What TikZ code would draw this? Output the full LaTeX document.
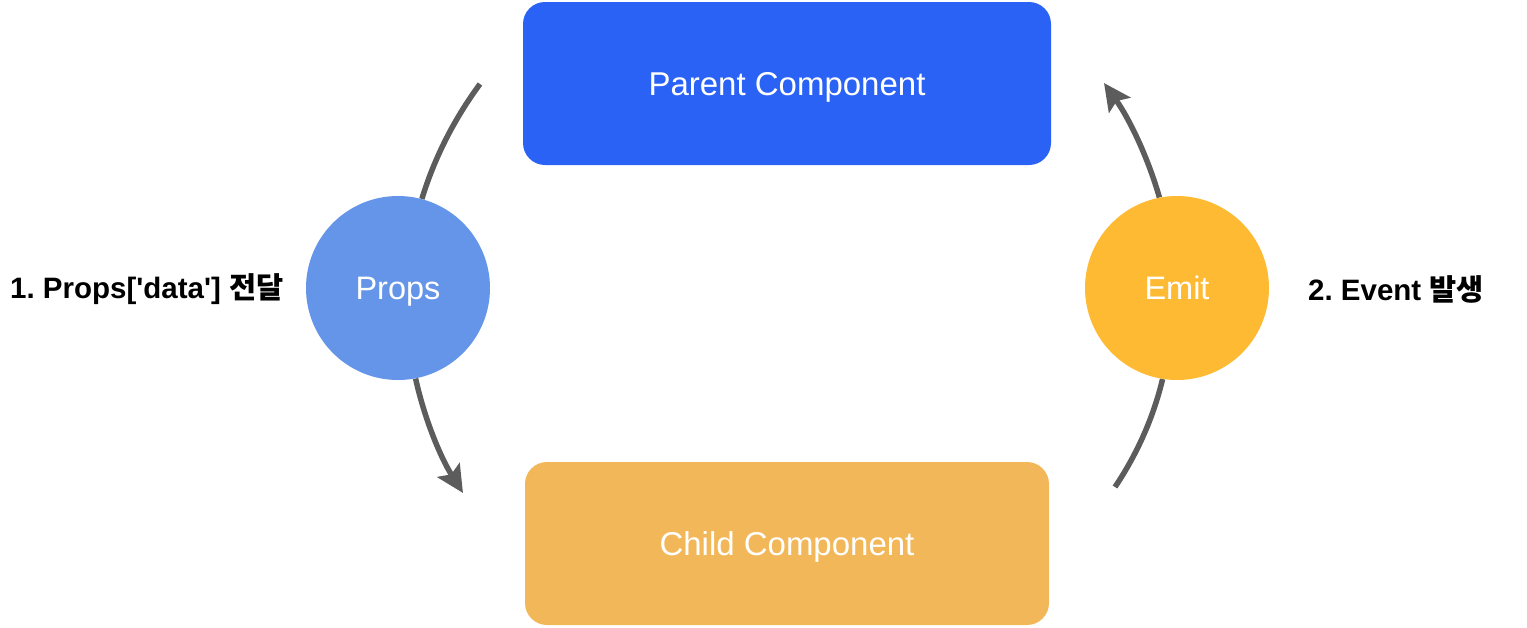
\documentclass[tikz,border=0pt]{standalone}
\usepackage{fontspec}
\setmainfont{Liberation Sans}
\newfontfamily\krfont{Noto Sans CJK KR Bold}
\usetikzlibrary{arrows.meta}
\pgfdeclarelayer{back}
\pgfsetlayers{back,main}
\definecolor{parentblue}{HTML}{2B62F6}
\definecolor{childorange}{HTML}{F2B758}
\definecolor{propsblue}{HTML}{6495E8}
\definecolor{emityellow}{HTML}{FFBA33}
\definecolor{linegray}{HTML}{5C5C5C}
\tikzset{
  compbox/.style={rectangle, rounded corners=22pt, minimum width=528pt, minimum height=163pt, inner sep=0pt, text=white, font=\fontsize{33}{40}\selectfont, text height=23.5pt, text depth=0pt},
  roundnode/.style={circle, minimum size=184pt, inner sep=0pt, text=white, font=\fontsize{32.5}{40}\selectfont, text height=23pt, text depth=0pt},
  sidelabel/.style={inner sep=0pt, font=\fontsize{29.5}{34}\selectfont\bfseries},
  flow/.style={draw=linegray, line width=5.5pt},
  flowarrow/.style={flow, -{Stealth[length=27pt, width=26pt, inset=5pt]}},
}
\frenchspacing
\begin{document}
\begin{tikzpicture}[x=1pt, y=-1pt]
\useasboundingbox (0,0) rectangle (1527,627);
\node[compbox, fill=parentblue] (parent) at (787,83.5) {Parent Component};
\node[compbox, fill=childorange, minimum width=524pt] (child) at (787,543.5) {Child Component};
\node[roundnode, fill=propsblue] (props) at (398,288) {Props};
\node[roundnode, fill=emityellow] (emit) at (1177,288) {Emit};
\coordinate (ptop) at (480,84);
\coordinate (ptip) at (463,493);
\coordinate (ebot) at (1115,487);
\coordinate (etip) at (1104,83);
\node[sidelabel, anchor=west] (lab1) at (10,289) {1. Props[\textquotesingle data\textquotesingle] {\krfont 전달}};
\node[sidelabel, anchor=west] (lab2) at (1308,289) {2. Event {\krfont 발생}};
\begin{pgfonlayer}{back}
\draw[flow] (ptop) .. controls (453.7,119.7) and (434.3,158.3) .. (props.75);
\draw[flowarrow] (props.-79) .. controls (424.5,419) and (440.5,457.4) .. (ptip);
\draw[flow] (ebot) .. controls (1137.5,453.4) and (1153.5,417) .. (emit.-99);
\draw[flowarrow] (emit.101) .. controls (1147.8,157) and (1129.2,118.6) .. (etip);
\end{pgfonlayer}
\end{tikzpicture}
\end{document}
